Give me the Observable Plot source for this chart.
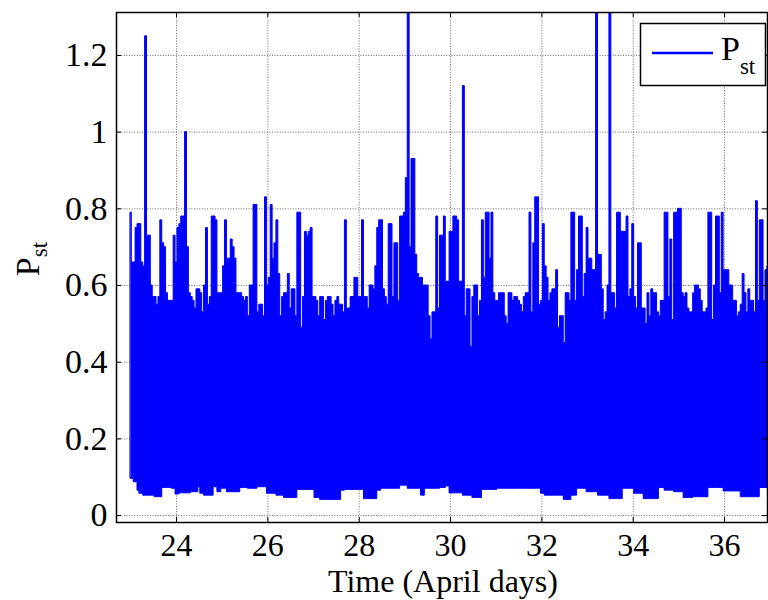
<!DOCTYPE html>
<html><head><meta charset="utf-8">
<script src="https://cdn.jsdelivr.net/npm/d3@7"></script>
<script src="https://cdn.jsdelivr.net/npm/@observablehq/plot@0.6"></script>
<style>
body{margin:0;background:#fff;}
#chart{position:relative;width:768px;height:600px;overflow:hidden;}
</style></head><body><div id="chart"></div>
<script>
// hourly samples of the upper envelope of Pst, starting at day 23
const startDay = 23;
const stepDays = 1 / 24;
const pstHigh = [
0.79,0.66,0.66,0.75,0.76,0.76,0.66,0.65,1.25,0.73,
0.73,0.60,0.57,0.57,0.55,0.57,0.77,0.71,0.70,0.58,
0.56,0.56,0.56,0.73,0.66,0.75,0.76,0.78,0.78,1.00,
0.70,0.58,0.57,0.56,0.54,0.59,0.59,0.58,0.53,0.60,
0.75,0.55,0.57,0.78,0.78,0.77,0.58,0.58,0.58,0.65,
0.77,0.67,0.67,0.72,0.70,0.67,0.58,0.58,0.58,0.57,0.56,
0.57,0.52,0.60,0.60,0.81,0.81,0.53,0.55,0.55,0.52,
0.83,0.60,0.62,0.81,0.67,0.71,0.77,0.63,0.52,0.57,
0.58,0.58,0.63,0.54,0.59,0.59,0.52,0.79,0.79,0.49,
0.57,0.74,0.73,0.74,0.75,0.57,0.57,0.56,0.52,0.57,
0.57,0.51,0.56,0.57,0.57,0.55,0.52,0.56,0.57,0.55,
0.55,0.53,0.77,0.54,0.54,0.57,0.57,0.62,0.62,0.57,
0.57,0.77,0.57,0.57,0.54,0.60,0.60,0.59,0.65,
0.75,0.77,0.77,0.59,0.57,0.55,0.76,0.76,0.57,0.71,
0.71,0.56,0.78,0.78,0.79,0.88,1.50,0.70,0.93,0.93,
0.68,0.63,0.62,0.62,0.60,0.60,0.60,0.52,0.46,0.53,
0.53,0.78,0.54,0.73,0.73,0.78,0.61,0.61,0.74,0.74,
0.78,0.78,0.77,0.61,0.61,1.12,0.52,0.59,0.59,0.44,
0.57,0.60,0.60,0.52,0.56,0.77,0.62,0.79,0.79,0.67,
0.79,0.58,0.56,0.56,0.58,0.58,0.58,0.52,
0.50,0.58,0.58,0.56,0.57,0.57,0.56,0.55,0.53,0.57,
0.58,0.58,0.79,0.53,0.71,0.83,0.83,0.55,0.56,0.76,
0.65,0.62,0.56,0.58,0.59,0.59,0.64,0.49,0.52,0.52,
0.45,0.58,0.58,0.56,0.79,0.79,0.56,0.64,0.78,0.78,
0.57,0.63,0.75,0.67,0.67,0.64,0.64,1.60,0.68,0.68,
0.59,0.51,0.53,0.60,1.50,0.58,0.58,0.54,0.79,0.79,
0.74,0.74,0.74,0.78,0.57,0.59,0.76,0.57,
0.54,0.71,0.71,0.54,0.54,0.50,0.58,0.52,0.59,0.58,
0.58,0.53,0.52,0.56,0.56,0.79,0.79,0.57,0.72,0.51,
0.79,0.79,0.80,0.80,0.58,0.57,0.58,0.54,0.53,0.53,
0.58,0.60,0.60,0.59,0.56,0.53,0.53,0.54,0.79,0.79,
0.51,0.60,0.78,0.78,0.58,0.79,0.64,0.64,0.64,0.60,
0.60,0.56,0.56,0.52,0.53,0.55,0.63,0.58,0.53,0.59,
0.56,0.56,0.53,0.82,0.56,0.77,0.77,0.56,0.64,0.65,0.65
];
// lower envelope: day where a level starts, and the level
const lowDays = [22.96,23.07,23.14,23.20,23.28,23.54,23.69,23.91,24.00,24.05,
24.31,24.49,24.53,24.60,24.82,24.89,25.00,25.11,25.40,25.55,
25.77,25.99,26.20,26.35,26.64,27.01,27.15,27.59,27.70,28.10,
28.39,28.50,28.90,29.05,29.34,29.45,29.78,29.90,30.00,30.29,
30.47,30.69,31.02,31.97,32.08,32.48,32.63,32.77,32.99,33.21,
33.50,33.76,34.01,34.23,34.56,34.67,34.89,35.11,35.33,35.66,
35.98,36.35,36.79];
const lowVals = [0.096,0.087,0.065,0.057,0.052,0.048,0.072,0.070,0.055,0.058,
0.061,0.074,0.057,0.052,0.074,0.061,0.070,0.061,0.072,0.070,
0.074,0.057,0.052,0.046,0.067,0.046,0.041,0.065,0.067,0.043,
0.065,0.070,0.078,0.070,0.052,0.070,0.072,0.076,0.058,0.052,
0.046,0.067,0.070,0.057,0.052,0.041,0.052,0.070,0.061,0.052,
0.043,0.070,0.057,0.043,0.072,0.065,0.061,0.046,0.048,0.072,
0.063,0.048,0.072];
const xTicks = [24,26,28,30,32,34,36];
const xTickLabels = ["24","26","28","30","32","34","36"];
const yTicks = [0,0.2,0.4,0.6,0.8,1,1.2];
const yTickLabels = ["0","0.2","0.4","0.6","0.8","1","1.2"];
const xDomain = [22.686,36.94];
const yDomain = [-0.018,1.312];
const xLabel = "Time (April days)";
const yLabelMain = "P", yLabelSub = "st";
const seriesMain = "P", seriesSub = "st";
const seriesColor = "#0000ff";

function lowAt(t){ const i = d3.bisectRight(lowDays, t) - 1; return lowVals[Math.max(0, i)]; }
const samples = pstHigh.map((h, i) => { const t = startDay + i * stepDays; return {t, high: h, low: lowAt(t)}; });

const font = "'Liberation Serif','Times New Roman',serif";
const W = 768, H = 600, mL = 116, mR = 1, mT = 12, mB = 78;
const pw = W - mL - mR, ph = H - mT - mB, tk = 5;
const gridStyle = {stroke: "#444", strokeOpacity: 0.8, strokeDasharray: "1,1.6", strokeWidth: 1};

const plot = Plot.plot({
  width: W, height: H, marginLeft: mL, marginRight: mR, marginTop: mT, marginBottom: mB,
  x: {domain: xDomain, axis: null},
  y: {domain: yDomain, axis: null},
  style: {fontFamily: font, background: "white", overflow: "visible"},
  marks: [
    Plot.gridX(xTicks, gridStyle),
    Plot.gridY(yTicks, gridStyle),
    Plot.areaY(samples, {x: "t", y1: "low", y2: "high", curve: "step", fill: seriesColor, stroke: seriesColor, strokeWidth: 1, clip: true}),
    Plot.tickX(xTicks, {x: d => d, insetTop: ph - tk, stroke: "black"}),
    Plot.tickX(xTicks, {x: d => d, insetBottom: ph - tk, stroke: "black"}),
    Plot.tickY(yTicks, {y: d => d, insetRight: pw - tk, stroke: "black"}),
    Plot.tickY(yTicks, {y: d => d, insetLeft: pw - tk, stroke: "black"}),
    Plot.frame({stroke: "black", strokeWidth: 1.5}),
    Plot.axisX(xTicks, {anchor: "bottom", tickSize: 0, tickPadding: 11, fontSize: 32, fontFamily: font, fill: "black", label: null, tickFormat: (d, i) => xTickLabels[i]}),
    Plot.axisY(yTicks, {anchor: "left", tickSize: 0, tickPadding: 9, fontSize: 34, fontFamily: font, fill: "black", label: null, tickFormat: (d, i) => yTickLabels[i]})
  ]
});
document.getElementById("chart").appendChild(plot);

const svg = d3.select(plot);
// x label
svg.append("text").attr("x", 443).attr("y", 592).attr("text-anchor", "middle")
  .attr("font-family", font).attr("font-size", 32).attr("fill", "black").text(xLabel);
// y label with subscript
const yl = svg.append("text").attr("transform", "translate(39,259) rotate(-90)").attr("text-anchor", "middle")
  .attr("font-family", font).attr("font-size", 34).attr("fill", "black");
yl.append("tspan").text(yLabelMain);
yl.append("tspan").attr("font-size", 23).attr("dy", 8).text(yLabelSub);
// legend
const lg = svg.append("g");
lg.append("rect").attr("x", 640.5).attr("y", 23.5).attr("width", 125).attr("height", 62)
  .attr("fill", "white").attr("stroke", "black").attr("stroke-width", 1.5);
lg.append("line").attr("x1", 652).attr("x2", 713).attr("y1", 53).attr("y2", 53)
  .attr("stroke", seriesColor).attr("stroke-width", 2.5);
const lt = lg.append("text").attr("x", 721).attr("y", 60).attr("text-anchor", "start").attr("font-family", font)
  .attr("font-size", 34).attr("fill", "black");
lt.append("tspan").text(seriesMain);
lt.append("tspan").attr("font-size", 23).attr("dy", 14).text(seriesSub);
</script></body></html>
